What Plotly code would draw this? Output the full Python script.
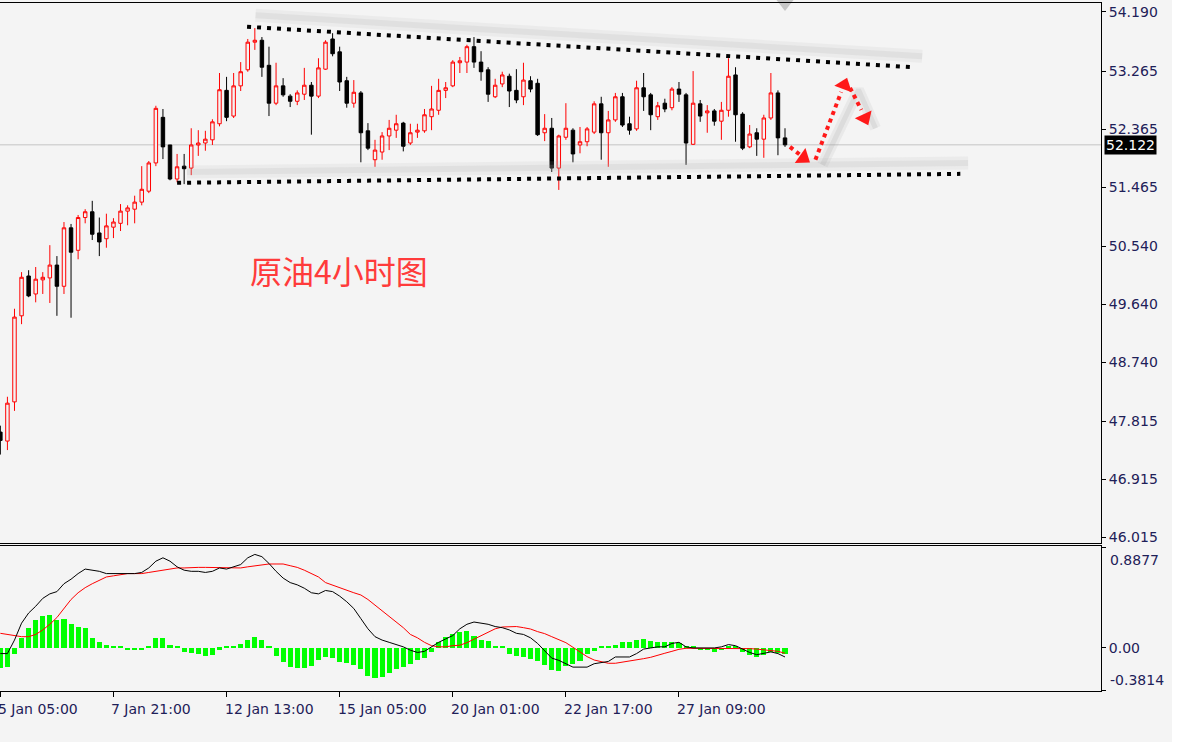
import plotly.graph_objects as go

# 4-hour crude oil bars (index 0 = 5 Jan 05:00)
bar_idx = list(range(112))

opens = [47.65, 47.51, 48.12, 49.46, 50.08, 49.80, 50.02, 50.05, 50.25, 49.92,
         50.83, 50.48, 50.99, 51.08, 50.75, 50.66, 50.84, 50.90, 51.09, 51.12,
         51.23, 51.40, 51.84, 52.55, 52.12, 51.59, 51.79, 51.76, 52.12, 52.15,
         52.20, 52.45, 52.97, 52.57, 53.04, 53.29, 53.72, 53.75, 53.36, 52.77,
         53.04, 52.88, 52.80, 52.91, 53.05, 52.88, 53.30, 53.77, 53.57, 53.12,
         52.77, 52.93, 52.34, 51.89, 52.01, 52.26, 52.35, 52.46, 52.15, 52.32,
         52.34, 52.56, 52.66, 52.97, 53.04, 53.40, 53.41, 53.65, 53.41, 53.29,
         52.87, 53.07, 53.19, 52.97, 52.87, 53.12, 53.08, 52.31, 52.38, 51.76,
         52.24, 52.35, 52.12, 52.17, 52.32, 52.76, 52.31, 52.51, 52.87, 52.45,
         52.37, 53.01, 52.90, 52.56, 52.77, 52.70, 52.99, 52.90, 52.13, 52.76,
         52.62, 52.65, 52.49, 52.66, 53.21, 52.60, 52.09, 52.31, 52.21, 52.54,
         52.93, 52.23]
highs = [47.75, 48.20, 49.57, 50.14, 50.17, 50.22, 50.14, 50.56, 50.39, 50.92,
         50.89, 51.03, 51.12, 51.25, 50.99, 51.05, 50.98, 51.20, 51.18, 51.33,
         51.79, 51.87, 52.73, 52.68, 52.12, 51.98, 51.98, 52.38, 52.35, 52.34,
         52.52, 53.24, 53.18, 53.24, 53.41, 53.77, 53.94, 53.80, 53.65, 53.40,
         53.16, 52.91, 52.97, 53.32, 53.10, 53.47, 53.75, 53.86, 53.65, 53.18,
         53.13, 52.96, 52.46, 52.20, 52.32, 52.51, 52.59, 52.48, 52.45, 52.45,
         52.68, 53.04, 53.15, 53.10, 53.44, 53.49, 53.68, 53.80, 53.58, 53.33,
         53.15, 53.26, 53.23, 53.30, 53.40, 53.19, 53.15, 52.60, 52.54, 52.28,
         52.77, 52.38, 52.40, 52.40, 52.80, 52.87, 52.65, 52.93, 52.93, 52.56,
         53.12, 53.24, 52.93, 52.79, 52.84, 53.02, 53.10, 52.93, 53.27, 52.82,
         52.74, 52.68, 52.79, 53.47, 53.33, 52.63, 52.43, 52.38, 52.59, 53.24,
         52.97, 52.38]
lows = [47.30, 47.37, 47.98, 49.33, 49.75, 49.67, 49.80, 49.66, 49.46, 49.80,
        49.43, 50.34, 50.90, 50.64, 50.39, 50.52, 50.67, 50.78, 50.87, 50.90,
        51.18, 51.37, 51.79, 51.90, 51.57, 51.54, 51.51, 51.65, 51.95, 52.03,
        52.12, 52.41, 52.49, 52.54, 52.96, 53.26, 53.60, 53.18, 52.57, 52.74,
        52.87, 52.71, 52.74, 52.82, 52.28, 52.85, 53.29, 53.50, 52.96, 52.70,
        52.70, 51.85, 52.04, 51.78, 51.89, 52.04, 52.23, 52.02, 52.12, 52.23,
        52.31, 52.35, 52.59, 52.85, 53.02, 53.24, 53.24, 53.32, 53.12, 52.79,
        52.85, 53.02, 52.71, 52.77, 52.74, 52.94, 52.26, 52.18, 51.70, 51.42,
        52.20, 51.85, 51.99, 52.10, 52.29, 51.89, 51.78, 52.48, 52.40, 52.28,
        52.34, 52.65, 52.35, 52.51, 52.63, 52.66, 52.79, 51.81, 52.12, 52.48,
        52.31, 52.42, 52.20, 52.56, 52.17, 52.04, 52.07, 51.95, 51.92, 52.51,
        51.96, 52.09]
closes = [47.52, 48.10, 49.44, 50.06, 49.77, 50.03, 50.06, 50.25, 49.92, 50.83,
          50.45, 50.99, 51.08, 50.73, 50.61, 50.86, 50.92, 51.09, 51.14, 51.23,
          51.43, 51.84, 52.69, 52.09, 51.59, 51.78, 51.75, 52.12, 52.15, 52.21,
          52.48, 52.98, 52.55, 53.04, 53.26, 53.72, 53.75, 53.33, 52.77, 53.04,
          52.90, 52.80, 52.93, 53.05, 52.88, 53.32, 53.72, 53.54, 53.10, 52.77,
          52.94, 52.31, 52.07, 52.04, 52.26, 52.38, 52.45, 52.10, 52.31, 52.35,
          52.59, 52.68, 52.97, 53.01, 53.41, 53.43, 53.65, 53.41, 53.26, 52.91,
          53.05, 53.21, 52.96, 52.82, 53.13, 52.99, 52.28, 52.38, 51.76, 52.26,
          52.38, 51.98, 52.17, 52.37, 52.76, 52.31, 52.51, 52.87, 52.43, 52.35,
          53.01, 52.87, 52.59, 52.73, 52.68, 52.99, 52.91, 52.15, 52.77, 52.57,
          52.65, 52.49, 52.66, 53.19, 52.59, 52.07, 52.29, 52.21, 52.54, 52.93,
          52.23, 52.122]

last_price = 52.122

# MACD pane: black main line, red signal line, green histogram
macd_main = [-0.05, -0.05, 0.07, 0.22, 0.31, 0.37, 0.44, 0.48, 0.50, 0.57,
             0.61, 0.66, 0.70, 0.69, 0.68, 0.66, 0.66, 0.66, 0.66, 0.66,
             0.67, 0.71, 0.77, 0.80, 0.77, 0.72, 0.69, 0.68, 0.68, 0.67,
             0.68, 0.71, 0.70, 0.72, 0.74, 0.80, 0.83, 0.81, 0.75, 0.68,
             0.62, 0.58, 0.56, 0.53, 0.49, 0.48, 0.51, 0.50, 0.46, 0.41,
             0.35, 0.26, 0.17, 0.10, 0.07, 0.05, 0.03, 0.01, -0.02, -0.04,
             -0.03, 0.01, 0.05, 0.08, 0.11, 0.17, 0.21, 0.23, 0.22, 0.21,
             0.19, 0.18, 0.16, 0.13, 0.12, 0.09, 0.04, -0.03, -0.09, -0.11,
             -0.14, -0.17, -0.17, -0.17, -0.14, -0.13, -0.12, -0.08, -0.08, -0.08,
             -0.05, -0.01, 0.00, 0.01, 0.01, 0.04, 0.05, 0.01, 0.00, 0.00,
             0.00, 0.00, 0.01, 0.03, 0.02, -0.01, -0.04, -0.06, -0.05, -0.035,
             -0.05, -0.08]
macd_signal = [0.13, 0.12, 0.11, 0.10, 0.10, 0.12, 0.16, 0.21, 0.27, 0.35,
               0.43, 0.49, 0.535, 0.57, 0.60, 0.63, 0.64, 0.65, 0.66, 0.66,
               0.66, 0.67, 0.68, 0.695, 0.70, 0.71, 0.71, 0.715, 0.715, 0.715,
               0.715, 0.71, 0.71, 0.71, 0.71, 0.72, 0.73, 0.74, 0.745, 0.745,
               0.745, 0.73, 0.715, 0.69, 0.66, 0.63, 0.58, 0.556, 0.535, 0.515,
               0.49, 0.47, 0.43, 0.38, 0.33, 0.28, 0.23, 0.18, 0.12, 0.09,
               0.05, 0.02, 0.01, 0.01, 0.02, 0.024, 0.047, 0.077, 0.104, 0.136,
               0.17, 0.186, 0.19, 0.19, 0.18, 0.168, 0.145, 0.127, 0.10, 0.077,
               0.047, 0.006, -0.036, -0.077, -0.107, -0.124, -0.136, -0.136, -0.127, -0.118,
               -0.107, -0.095, -0.083, -0.068, -0.047, -0.03, -0.012, -0.003, -0.003, -0.003,
               -0.003, -0.003, -0.003, -0.003, -0.003, -0.003, -0.006, -0.01, -0.015, -0.021,
               -0.03, -0.047]
macd_hist = [-0.18, -0.165, -0.05, 0.09, 0.18, 0.25, 0.28, 0.29, 0.25, 0.26,
             0.21, 0.19, 0.18, 0.09, 0.056, 0.027, 0.015, 0.015, -0.02, -0.02,
             -0.02, 0.015, 0.09, 0.085, 0.03, 0.015, -0.04, -0.047, -0.05, -0.068,
             -0.06, -0.015, 0.015, 0.015, 0.035, 0.07, 0.095, 0.07, 0.015, -0.068,
             -0.12, -0.17, -0.18, -0.18, -0.16, -0.11, -0.083, -0.09, -0.12, -0.136,
             -0.148, -0.19, -0.245, -0.266, -0.255, -0.225, -0.19, -0.17, -0.14, -0.11,
             -0.09, -0.04, 0.05, 0.095, 0.125, 0.14, 0.148, 0.11, 0.07, 0.065,
             0.015, 0.015, -0.053, -0.068, -0.077, -0.098, -0.112, -0.148, -0.195, -0.2,
             -0.157, -0.142, -0.112, -0.053, -0.024, 0.015, 0.015, 0.03, 0.05, 0.05,
             0.07, 0.08, 0.059, 0.05, 0.05, 0.05, 0.04, 0.015, 0.015, -0.018,
             -0.018, -0.04, -0.018, 0.015, 0.015, -0.04, -0.06, -0.077, -0.06, -0.04,
             -0.047, -0.053]

price_ticks = [54.190, 53.265, 52.365, 51.465, 50.540, 49.640, 48.740, 47.815, 46.915, 46.015]
time_tick_idx = [0, 16, 32, 48, 64, 80, 96]
time_tick_text = ["5 Jan 05:00", "7 Jan 21:00", "12 Jan 13:00", "15 Jan 05:00",
                  "20 Jan 01:00", "22 Jan 17:00", "27 Jan 09:00"]

# hand-drawn channel lines and the forecast path (bar index, price)
upper_line_x = [34.9, 129.1]
upper_line_y = [53.96, 53.33]
lower_line_x = [25.0, 135.8]
lower_line_y = [51.53, 51.67]
upper_shadow_x = [36.1, 130.4]
upper_shadow_y = [54.14, 53.50]
lower_shadow_x = [26.4, 136.9]
lower_shadow_y = [51.70, 51.84]
path_x = [[111.7, 113.2], [115.3, 118.95], [120.2, 121.8]]
path_y = [[52.09, 51.96], [51.89, 52.945], [53.01, 52.665]]
head_x = [113.6, 119.4, 122.3]
head_y = [51.92, 53.05, 52.54]
head_angle = [125, 20, 155]
path_shadow_x = [116.3, 121.4, 123.8]
path_shadow_y = [51.81, 52.98, 52.38]

BG = "#f4f4f4"
AXIS_FONT = dict(family="DejaVu Sans", size=14, color="#1e2058")

fig = go.Figure()

fig.add_trace(go.Candlestick(
    x=bar_idx, open=opens, high=highs, low=lows, close=closes,
    increasing=dict(line=dict(color="#ff0000", width=1), fillcolor=BG),
    decreasing=dict(line=dict(color="#000000", width=1), fillcolor="#000000"),
    whiskerwidth=0, hoverinfo="skip", xaxis="x", yaxis="y"
))

# soft shadows of the drawn objects
for sx, sy in [(upper_shadow_x, upper_shadow_y), (lower_shadow_x, lower_shadow_y)]:
    fig.add_trace(go.Scatter(x=sx, y=sy, mode="lines",
                             line=dict(color="rgba(175,175,175,0.13)", width=13),
                             hoverinfo="skip"))
    fig.add_trace(go.Scatter(x=sx, y=sy, mode="lines",
                             line=dict(color="rgba(175,175,175,0.18)", width=6),
                             hoverinfo="skip"))
fig.add_trace(go.Scatter(x=path_shadow_x, y=path_shadow_y, mode="lines",
                         line=dict(color="rgba(160,160,160,0.13)", width=11),
                         hoverinfo="skip"))
fig.add_trace(go.Scatter(x=path_shadow_x, y=path_shadow_y, mode="lines",
                         line=dict(color="rgba(160,160,160,0.18)", width=5),
                         hoverinfo="skip"))

# dotted channel
for lx, ly in [(upper_line_x, upper_line_y), (lower_line_x, lower_line_y)]:
    fig.add_trace(go.Scatter(x=lx, y=ly, mode="lines",
                             line=dict(color="#000000", width=4, dash="4px,6px"),
                             hoverinfo="skip"))

# red dotted forecast arrows
for px_, py_ in zip(path_x, path_y):
    fig.add_trace(go.Scatter(x=px_, y=py_, mode="lines",
                             line=dict(color="#ff1a1a", width=4, dash="4px,4px"),
                             hoverinfo="skip"))
fig.add_trace(go.Scatter(x=head_x, y=head_y, mode="markers",
                         marker=dict(symbol="triangle-up", size=16, color="#ff1a1a",
                                     angle=head_angle, line=dict(width=0)),
                         hoverinfo="skip"))

# grey marker stub at the top edge
fig.add_trace(go.Scatter(x=[111.0], y=[54.33], mode="markers",
                         marker=dict(symbol="triangle-down", size=16,
                                     color="rgba(150,150,150,0.5)"),
                         cliponaxis=False, hoverinfo="skip"))

# MACD pane
fig.add_trace(go.Bar(x=bar_idx, y=macd_hist, width=0.72,
                     marker=dict(color="#00ff00", line=dict(width=0)),
                     hoverinfo="skip", xaxis="x2", yaxis="y2"))
fig.add_trace(go.Scatter(x=bar_idx, y=macd_signal, mode="lines",
                         line=dict(color="#ff0000", width=1),
                         hoverinfo="skip", xaxis="x2", yaxis="y2"))
fig.add_trace(go.Scatter(x=bar_idx, y=macd_main, mode="lines",
                         line=dict(color="#000000", width=1),
                         hoverinfo="skip", xaxis="x2", yaxis="y2"))

annotations = [
    dict(text="原油4小时图", x=35.1, y=50.17, xref="x", yref="y",
         xanchor="left", yanchor="middle", showarrow=False,
         font=dict(family="Noto Sans CJK SC", size=32, color="#ff3b3b")),
    dict(text="52.122", x=1, y=last_price, xref="paper", yref="y",
         xanchor="left", yanchor="middle", xshift=3, showarrow=False,
         bgcolor="#000000", borderpad=1,
         font=dict(family="DejaVu Sans", size=14, color="#ffffff")),
    dict(text="0.8877", x=1, y=0.78, xref="paper", yref="y2",
         xanchor="left", yanchor="middle", xshift=7, showarrow=False, font=AXIS_FONT),
    dict(text="-0.3814", x=1, y=-0.284, xref="paper", yref="y2",
         xanchor="left", yanchor="middle", xshift=7, showarrow=False, font=AXIS_FONT),
]
for idx, label in zip(time_tick_idx, time_tick_text):
    annotations.append(dict(text=label, x=idx, y=0, xref="x2", yref="paper",
                            xanchor="left", yanchor="top", xshift=-4, yshift=-8,
                            showarrow=False, font=AXIS_FONT))

fig.update_layout(
    width=1177, height=742,
    margin=dict(l=0, r=76, t=3, b=51),
    paper_bgcolor=BG, plot_bgcolor=BG,
    showlegend=False, bargap=0,
    annotations=annotations,
    shapes=[
        dict(type="line", xref="paper", x0=0, x1=1, yref="y",
             y0=last_price, y1=last_price, line=dict(color="#c4c4c4", width=1),
             layer="below"),
        dict(type="rect", xref="paper", x0=1.0645, x1=1.08, yref="paper",
             y0=-0.1, y1=1.01, fillcolor="#ffffff", line=dict(width=0)),
    ],
    xaxis=dict(domain=[0, 1], anchor="y", range=[-0.05, 155.7],
               showticklabels=False, ticks="", showgrid=False, zeroline=False,
               showline=True, mirror=True, linecolor="#000000", linewidth=1,
               rangeslider=dict(visible=False)),
    yaxis=dict(domain=[0.2151, 1], anchor="x", side="right",
               range=[45.923, 54.330], tickvals=price_ticks,
               ticktext=["%.3f" % v for v in price_ticks],
               ticks="outside", ticklen=4, tickcolor="#000000",
               tickfont=AXIS_FONT, showgrid=False, zeroline=False,
               showline=True, mirror=True, linecolor="#000000", linewidth=1),
    xaxis2=dict(domain=[0, 1], anchor="y2", matches="x",
                tickvals=time_tick_idx, ticktext=[""] * len(time_tick_idx),
                ticks="outside", ticklen=5, tickcolor="#000000",
                showgrid=False, zeroline=False,
                showline=True, mirror=True, linecolor="#000000", linewidth=1),
    yaxis2=dict(domain=[0, 0.2108], anchor="x2", side="right",
                range=[-0.382, 0.905], tickvals=[0.8877, 0.0, -0.3814],
                ticktext=["", "0.00", ""],
                ticks="outside", ticklen=4, tickcolor="#000000",
                tickfont=AXIS_FONT, showgrid=False, zeroline=False,
                showline=True, mirror=True, linecolor="#000000", linewidth=1),
)

# drop the browser's default page margin so the figure sits at the window origin
fig.write_html("out.html",
               config={"displayModeBar": False},
               post_script="document.body.style.margin='0';document.body.style.overflow='hidden';")
